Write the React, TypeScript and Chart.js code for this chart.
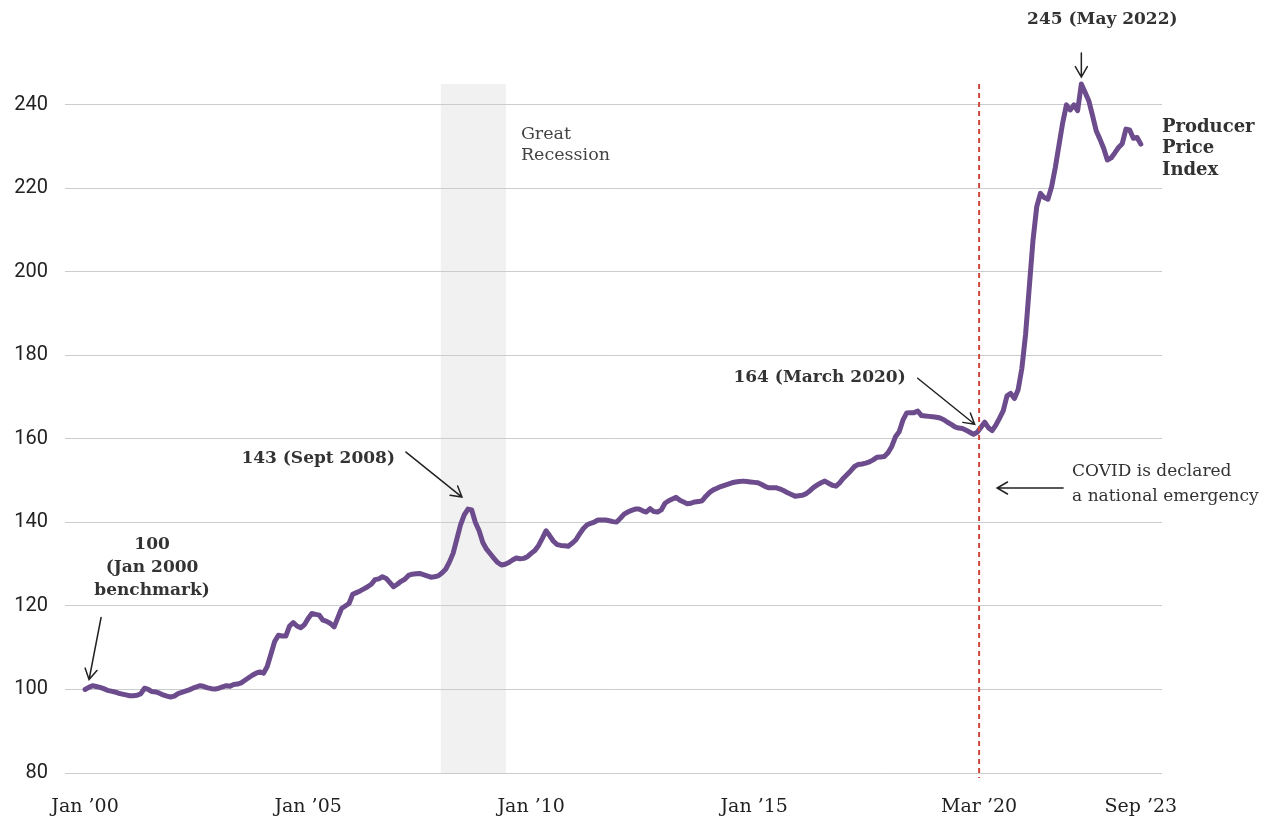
import React, { useEffect, useRef } from "react";
import { Chart, registerables } from "chart.js";
Chart.register(...registerables);

// Producer Price Index, monthly, Jan 2000 = 100 (Jan 2000 .. Sep 2023)
const ppiValues: number[] = [
  // 2000
  100.0, 100.5, 100.9, 100.7, 100.5, 100.2, 99.8, 99.6, 99.4, 99.1, 98.9, 98.7,
  // 2001
  98.5, 98.5, 98.6, 99.0, 100.3, 100.0, 99.5, 99.4, 99.1, 98.7, 98.4, 98.2,
  // 2002
  98.4, 99.0, 99.3, 99.6, 99.9, 100.3, 100.6, 100.9, 100.7, 100.4, 100.2, 100.1,
  // 2003
  100.3, 100.6, 100.9, 100.8, 101.2, 101.3, 101.6, 102.2, 102.8, 103.4, 103.9, 104.2,
  // 2004
  103.9, 105.5, 108.5, 111.5, 113.0, 112.8, 112.8, 115.2, 116.0, 115.2, 114.8, 115.5,
  // 2005
  117.0, 118.2, 118.0, 117.8, 116.6, 116.3, 115.8, 115.0, 117.2, 119.4, 120.0, 120.6,
  // 2006
  122.8, 123.2, 123.6, 124.1, 124.6, 125.2, 126.3, 126.5, 127.0, 126.6, 125.6, 124.6,
  // 2007
  125.2, 125.9, 126.4, 127.3, 127.6, 127.7, 127.8, 127.5, 127.2, 126.9, 127.0, 127.2,
  // 2008
  127.9, 128.8, 130.5, 132.6, 136.0, 139.4, 141.8, 143.2, 143.0, 140.0, 138.0, 135.2,
  // 2009
  133.6, 132.5, 131.4, 130.4, 129.8, 130.0, 130.4, 131.0, 131.5, 131.3, 131.4, 131.8,
  // 2010
  132.6, 133.3, 134.5, 136.2, 138.0, 136.8, 135.5, 134.7, 134.5, 134.4, 134.3, 135.0,
  // 2011
  135.8, 137.2, 138.5, 139.4, 139.8, 140.1, 140.6, 140.6, 140.6, 140.4, 140.2, 140.1,
  // 2012
  141.0, 142.0, 142.5, 142.9, 143.2, 143.2, 142.8, 142.5, 143.3, 142.6, 142.5, 143.0,
  // 2013
  144.6, 145.2, 145.6, 146.0, 145.3, 144.9, 144.5, 144.6, 144.9, 145.0, 145.2, 146.3,
  // 2014
  147.2, 147.8, 148.2, 148.6, 148.9, 149.2, 149.5, 149.7, 149.8, 149.9, 149.8, 149.7,
  // 2015
  149.6, 149.5, 149.1, 148.6, 148.3, 148.3, 148.3, 148.0, 147.6, 147.1, 146.7, 146.3,
  // 2016
  146.4, 146.5, 146.9, 147.6, 148.4, 149.0, 149.5, 149.9, 149.4, 148.9, 148.7, 149.5,
  // 2017
  150.6, 151.5, 152.4, 153.4, 153.9, 154.0, 154.2, 154.5, 155.0, 155.6, 155.7, 155.8,
  // 2018
  156.7, 158.2, 160.5, 161.7, 164.5, 166.2, 166.3, 166.3, 166.7, 165.6, 165.5, 165.4,
  // 2019
  165.3, 165.2, 165.0, 164.6, 164.0, 163.5, 162.9, 162.6, 162.5, 162.1, 161.6, 161.1,
  // 2020
  161.6, 162.8, 164.0, 162.7, 162.0, 163.3, 165.0, 166.8, 170.3, 170.9, 169.7, 171.8,
  // 2021
  176.9, 185.0, 196.4, 207.6, 215.6, 218.8, 217.8, 217.4, 220.4, 225.0, 230.4, 235.8,
  // 2022
  240.0, 238.8, 240.0, 238.6, 245.0, 243.0, 241.0, 237.5, 233.8, 231.8, 229.6, 226.8,
  // 2023
  227.3, 228.5, 229.8, 230.7, 234.2, 234.0, 232.0, 232.2, 230.6,
];

const xTickMonths = [0, 60, 120, 180, 240.5, 284];
const xTickLabels = ["Jan \u201900", "Jan \u201905", "Jan \u201910", "Jan \u201915", "Mar \u201920", "Sep \u201923"];
const yTickValues = [80, 100, 120, 140, 160, 180, 200, 220, 240];

const recessionStartMonth = 95.7; // Dec 2007
const recessionEndMonth = 113.2; // Jun 2009
const covidMonth = 240.5; // Mar 2020

const benchmarkMonth = 0;
const benchmarkValue = 100;
const peak2008Month = 103;
const peak2008Value = 143.2;
const covidPointMonth = 242;
const covidPointValue = 164;
const peak2022Month = 268;
const peak2022Value = 245;

const SLAB = '"DejaVu Serif", serif';
const TEXT = "#333333";

function drawArrow(ctx: CanvasRenderingContext2D, x1: number, y1: number, x2: number, y2: number) {
  const ang = Math.atan2(y2 - y1, x2 - x1);
  const head = 12;
  const spread = Math.PI / 6;
  ctx.save();
  ctx.strokeStyle = "#222";
  ctx.lineWidth = 1.5;
  ctx.lineCap = "round";
  ctx.beginPath();
  ctx.moveTo(x1, y1);
  ctx.lineTo(x2, y2);
  ctx.moveTo(x2 - head * Math.cos(ang - spread), y2 - head * Math.sin(ang - spread));
  ctx.lineTo(x2, y2);
  ctx.lineTo(x2 - head * Math.cos(ang + spread), y2 - head * Math.sin(ang + spread));
  ctx.stroke();
  ctx.restore();
}

function drawLines(
  ctx: CanvasRenderingContext2D,
  lines: string[],
  x: number,
  y: number,
  lh: number,
  font: string,
  align: CanvasTextAlign,
  color = TEXT
) {
  ctx.save();
  ctx.font = font;
  ctx.fillStyle = color;
  ctx.textAlign = align;
  ctx.textBaseline = "middle";
  lines.forEach((l, i) => ctx.fillText(l, x, y + i * lh));
  ctx.restore();
}

const backgroundPlugin = {
  id: "recessionBand",
  beforeDraw(chart: any) {
    const { ctx, chartArea, scales } = chart;
    const x1 = scales.x.getPixelForValue(recessionStartMonth);
    const x2 = scales.x.getPixelForValue(recessionEndMonth);
    ctx.save();
    ctx.fillStyle = "#f1f1f1";
    ctx.fillRect(x1, chartArea.top, x2 - x1, chartArea.bottom - chartArea.top);
    ctx.restore();
  },
};

const annotationPlugin = {
  id: "annotations",
  afterDatasetsDraw(chart: any) {
    const { ctx, chartArea, scales } = chart;
    const xs = scales.x;
    const ys = scales.y;

    // COVID dashed line
    const cx = xs.getPixelForValue(covidMonth);
    ctx.save();
    ctx.strokeStyle = "#d2453a";
    ctx.lineWidth = 2;
    ctx.setLineDash([5, 4]);
    ctx.beginPath();
    ctx.moveTo(cx, chartArea.top);
    ctx.lineTo(cx, chartArea.bottom + 5);
    ctx.stroke();
    ctx.restore();

    const bold = `bold 17px ${SLAB}`;

    // Great Recession label
    const rx = xs.getPixelForValue(recessionEndMonth);
    drawLines(ctx, ["Great", "Recession"], rx + 15, 134, 21, `17.5px ${SLAB}`, "left", "#444");

    // 100 benchmark
    const bx = xs.getPixelForValue(benchmarkMonth);
    const by = ys.getPixelForValue(benchmarkValue);
    drawLines(ctx, ["100", "(Jan 2000", "benchmark)"], bx + 67, 545, 23, bold, "center");
    drawArrow(ctx, bx + 16, by - 72, bx + 4, by - 10);

    // 143 Sept 2008
    const px = xs.getPixelForValue(peak2008Month);
    const py = ys.getPixelForValue(peak2008Value);
    drawLines(ctx, ["143 (Sept 2008)"], px - 73, 459, 22, bold, "right");
    drawArrow(ctx, px - 62, py - 57, px - 6, py - 12);

    // 164 March 2020
    const qx = xs.getPixelForValue(covidPointMonth);
    const qy = ys.getPixelForValue(covidPointValue);
    drawLines(ctx, ["164 (March 2020)"], qx - 79, 378, 22, bold, "right");
    drawArrow(ctx, qx - 67, qy - 44, qx - 10, qy + 2);

    // COVID text
    drawLines(ctx, ["COVID is declared", "a national emergency"], cx + 93, 472, 25, `17px ${SLAB}`, "left", "#333");
    drawArrow(ctx, cx + 84, 488, cx + 18, 488);

    // 245 May 2022
    const mx = xs.getPixelForValue(peak2022Month);
    const my = ys.getPixelForValue(peak2022Value);
    drawLines(ctx, ["245 (May 2022)"], mx + 21, 20, 22, bold, "center");
    drawArrow(ctx, mx, my - 31, mx, my - 7);

    // Series label
    drawLines(ctx, ["Producer", "Price", "Index"], chartArea.right, 127, 21.5, `bold 18px ${SLAB}`, "left");
  },
};

export default function App() {
  const canvasRef = useRef<HTMLCanvasElement | null>(null);

  useEffect(() => {
    if (!canvasRef.current) return;
    const chart = new Chart(canvasRef.current, {
      type: "line",
      data: {
        datasets: [
          {
            label: "Producer Price Index",
            data: ppiValues.map((v, i) => ({ x: i, y: v })),
            borderColor: "#6c4c8c",
            borderWidth: 5,
            pointRadius: 0,
            tension: 0,
            fill: false,
            clip: false as any,
            borderJoinStyle: "round",
            borderCapStyle: "round",
          },
        ],
      },
      options: {
        responsive: false,
        animation: false,
        layout: { padding: { top: 84, right: 116, left: 0, bottom: 0 } },
        plugins: { legend: { display: false }, tooltip: { enabled: false } },
        scales: {
          x: {
            type: "linear",
            min: -5.4,
            max: 289.7,
            grid: { display: false, drawTicks: false },
            border: { display: false },
            afterBuildTicks: (scale: any) => {
              scale.ticks = xTickMonths.map((v) => ({ value: v }));
            },
            afterFit: (scale: any) => {
              scale.height = 49;
            },
            ticks: {
              autoSkip: false,
              maxRotation: 0,
              padding: 23,
              color: "#222",
              font: { family: SLAB, size: 19 },
              callback: (_v: any, i: number) => xTickLabels[i],
            },
          },
          y: {
            min: 80,
            max: 245,
            grid: { color: "#c9cdcd", lineWidth: 1, drawTicks: false },
            border: { display: false },
            afterBuildTicks: (scale: any) => {
              scale.ticks = yTickValues.map((v) => ({ value: v }));
            },
            afterFit: (scale: any) => {
              scale.width = 65;
            },
            ticks: {
              padding: 17,
              color: "#222",
              font: { family: "Roboto, sans-serif", size: 20 },
            },
          },
        },
      },
      plugins: [backgroundPlugin, annotationPlugin],
    });
    return () => chart.destroy();
  }, []);

  return (
    <div style={{ position: "absolute", left: 0, top: 0, width: 1278, height: 822, background: "#fff" }}>
      <canvas ref={canvasRef} width={1278} height={822} style={{ display: "block" }} />
    </div>
  );
}
